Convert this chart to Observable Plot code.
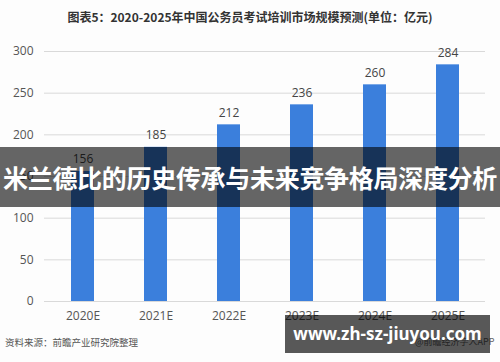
<!DOCTYPE html>
<html><head><meta charset="utf-8">
<script src="https://cdn.jsdelivr.net/npm/d3@7"></script>
<script src="https://cdn.jsdelivr.net/npm/@observablehq/plot@0.6"></script>
<style>
body{margin:0;background:#fff;}
#wrap{position:relative;width:500px;height:362px;overflow:hidden;font-family:"Noto Sans CJK SC","Noto Sans",sans-serif;background:#fdfdfd;}
#title{position:absolute;left:0;top:8px;width:500px;text-align:center;font-size:12px;font-weight:bold;color:#333;}
#source{position:absolute;left:5px;top:335px;font-size:9.5px;color:#555;}
#app{position:absolute;left:415px;top:335px;font-size:9px;color:#666;}
#banner{position:absolute;left:0;top:147px;width:500px;height:60px;background:rgba(0,0,0,0.6);color:#fff;font-size:25px;font-weight:bold;text-align:center;line-height:60px;white-space:nowrap;letter-spacing:-0.3px;}
#site{position:absolute;left:285px;top:315px;width:205px;height:38px;background:rgba(0,0,0,0.65);color:#fff;font-family:"Noto Sans","DejaVu Sans",sans-serif;font-size:17px;font-weight:bold;line-height:38px;text-align:center;white-space:nowrap;}
#chart{position:absolute;left:0;top:0;}
</style></head>
<body><div id="wrap">
<div id="chart"></div>
<div id="title"></div>
<div id="source"></div>
<div id="app"></div>
<div id="banner"></div>
<div id="site"></div>
</div>
<script>
const titleText = "图表5：2020-2025年中国公务员考试培训市场规模预测(单位：亿元)";
const sourceText = "资料来源：前瞻产业研究院整理";
const appText = "@前瞻经济学人APP";
const bannerText = "米兰德比的历史传承与未来竞争格局深度分析";
const siteText = "www.zh-sz-jiuyou.com";
const years = ["2020E","2021E","2022E","2023E","2024E","2025E"];
const values = [156,185,212,236,260,284];
const yTicks = [0,50,100,150,200,250,300];

document.getElementById("title").textContent = titleText;
document.getElementById("source").textContent = sourceText;
document.getElementById("app").textContent = appText;
document.getElementById("banner").textContent = bannerText;
document.getElementById("site").textContent = siteText;

const data = years.map((y,i)=>({year:y,value:values[i]}));
const chart = Plot.plot({
  width:500, height:362,
  marginLeft:44, marginRight:15, marginTop:51, marginBottom:61,
  style:{fontFamily:"'Open Sans','Noto Sans',sans-serif", fontSize:"12px", color:"#555", background:"transparent"},
  x:{domain:years, paddingInner:0.687, paddingOuter:0.3435, label:null},
  y:{domain:[0,300], ticks:yTicks, label:null},
  marks:[
    Plot.gridY(yTicks,{stroke:"#d9d9d9", strokeOpacity:1}),
    Plot.axisY({ticks:yTicks, tickSize:0, tickPadding:11, label:null, fill:"#555"}),
    Plot.axisX({tickSize:0, tickPadding:10, label:null, fill:"#555"}),
    Plot.barY(data,{x:"year", y:"value", fill:"#3b7fdc"}),
    Plot.text(data,{x:"year", y:"value", text:d=>String(d.value), dy:-12, fill:"#444", fontSize:12})
  ]
});
document.getElementById("chart").appendChild(chart);
</script>
</body></html>
